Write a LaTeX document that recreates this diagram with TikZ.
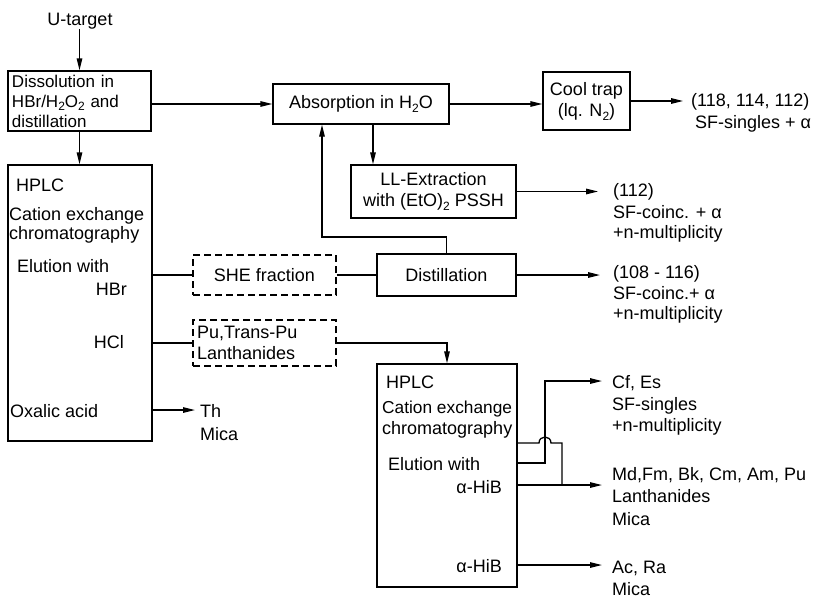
\documentclass[tikz,border=0pt]{standalone}
\usepackage{fontspec}
\setmainfont{Liberation Sans}
\usetikzlibrary{arrows.meta}
\newcommand\subtwo{\raisebox{-0.22em}{\fontsize{12}{12}\selectfont 2}}
\begin{document}
\begin{tikzpicture}[x=1pt,y=-1pt,
  every node/.style={font=\fontsize{18}{21}\selectfont, inner sep=0pt},
  line/.style={line width=1.3pt},
  arr/.style={line width=1.3pt, -{Triangle[length=12pt,width=5.5pt]}},
  box/.style={draw, line width=1.3pt, align=center},
  dbox/.style={box, dash pattern=on 7pt off 4pt},
  tw/.style={anchor=base west},
  te/.style={anchor=base east},
]
\useasboundingbox (0,0) rectangle (822,598);

% ---- boxes ----
\node[anchor=base] (ut) at (80,25) {U-target};
\node[box, minimum width=143pt, minimum height=60pt, text width=135pt, align=left,
      font=\fontsize{17}{20}\selectfont] (diss) at (79.5,101)
      {Dissolution in\\HBr/H\subtwo O\subtwo{} and\\distillation};
\node[box, minimum width=176pt, minimum height=40pt] (abs) at (361,104) {Absorption in H\subtwo O};
\node[box, minimum width=87pt, minimum height=58pt] (cool) at (586.5,101) {Cool trap\\(lq. N\subtwo)};
\node[box, minimum width=165pt, minimum height=53pt] (ll) at (433.5,191.5) {LL-Extraction\\with (EtO)\subtwo{} PSSH};
\node[box, minimum width=139pt, minimum height=42pt] (dist) at (446.5,275) {Distillation};
\node[dbox, minimum width=143pt, minimum height=40pt] (she) at (264.5,275) {SHE fraction};
\node[dbox, minimum width=143pt, minimum height=46pt, text width=135pt, align=left] (pu) at (264.5,343)
      {Pu,Trans-Pu\\Lanthanides};
\node[box, minimum width=144pt, minimum height=276pt] (hplcA) at (80,303) {};
\node[box, minimum width=140pt, minimum height=223pt] (hplcB) at (447,475.5) {};

% ---- texts in left HPLC box ----
\node[tw] (a1) at (16,191.5) {HPLC};
\node[tw] (a2) at (9,220) {Cation exchange};
\node[tw] (a3) at (9,239) {chromatography};
\node[tw] (a4) at (17,272) {Elution with};
\node[te] (a5) at (127,295) {HBr};
\node[te] (a6) at (124,348) {HCl};
\node[tw] (a7) at (10,417) {Oxalic acid};

% ---- texts in lower HPLC box ----
\node[tw] (b1) at (386,388) {HPLC};
\node[tw, font=\fontsize{17.3}{21}\selectfont] (b2) at (382,413) {Cation exchange};
\node[tw] (b3) at (382,434) {chromatography};
\node[tw] (b4) at (388,470) {Elution with};
\node[te] (b5) at (502,493) {α-HiB};
\node[te] (b6) at (502,572) {α-HiB};

% ---- output texts ----
\node[tw] (oa1) at (691,106.5) {(118, 114, 112)};
\node[tw] (oa2) at (695,128.5) {SF-singles + α};
\node[tw] (ob1) at (613,196) {(112)};
\node[tw] (ob2) at (613,218) {SF-coinc. + α};
\node[tw] (ob3) at (613,238) {+n-multiplicity};
\node[tw] (oc1) at (613,278) {(108 - 116)};
\node[tw] (oc2) at (613,299) {SF-coinc.+ α};
\node[tw] (oc3) at (613,319) {+n-multiplicity};
\node[tw] (od1) at (612,388) {Cf, Es};
\node[tw] (od2) at (612,410) {SF-singles};
\node[tw] (od3) at (612,431) {+n-multiplicity};
\node[tw] (oe1) at (612,480) {Md,Fm, Bk, Cm, Am, Pu};
\node[tw] (oe2) at (612,502) {Lanthanides};
\node[tw] (oe3) at (612,525) {Mica};
\node[tw] (of1) at (612,573) {Ac, Ra};
\node[tw] (of2) at (612,595) {Mica};
\node[tw] (og1) at (200,417) {Th};
\node[tw] (og2) at (200,440) {Mica};

% ---- free ends and junctions ----
\coordinate (oA) at (683,101);
\coordinate (oB) at (598,191.5);
\coordinate (oC) at (600,275);
\coordinate (oG) at (195,410);
\coordinate (oD) at (602,381);
\coordinate (oE) at (602,485);
\coordinate (oF) at (602,565);
\coordinate (ret) at (322,237);
\coordinate (k1) at (539,443);
\coordinate (k2) at (551,443);
\coordinate (k3) at (562,485);
\coordinate (k4) at (545,463);
\coordinate (v1) at (545,381);

% ---- connectors ----
\draw[arr] (ut.south -| diss.north) -- (diss.north);
\draw[arr] (diss.south) -- (hplcA.north -| diss.south);
\draw[arr] (abs.west -| diss.east) -- (abs.west);
\draw[arr] (abs.east) -- (abs.east -| cool.west);
\draw[arr] (cool.east) -- (oA);
\draw[arr] ([xshift=12pt]abs.south) -- ([xshift=12pt]abs.south |- ll.north);
\draw[arr] (ll.east) -- (oB);
\draw[arr] (dist.north) |- (ret) -- (ret |- abs.south);
\draw[arr] (dist.east) -- (oC);
\draw[line] (hplcA.east |- she.west) -- (she.west);
\draw[line] (she.east) -- (dist.west);
\draw[line] (hplcA.east |- pu.west) -- (pu.west);
\draw[arr] (pu.east) -| (hplcB.north);
\draw[arr] (hplcA.east |- oG) -- (oG);
\draw[line] (hplcB.east |- k1) -- (k1) .. controls ([yshift=8pt]k1) and ([yshift=8pt]k2) .. (k2) -| (k3);
\draw[arr] (hplcB.east |- k4) -- (k4) -- (v1) -- (oD);
\draw[arr] (hplcB.east |- oE) -- (oE);
\draw[arr] (hplcB.east |- oF) -- (oF);
\end{tikzpicture}
\end{document}
